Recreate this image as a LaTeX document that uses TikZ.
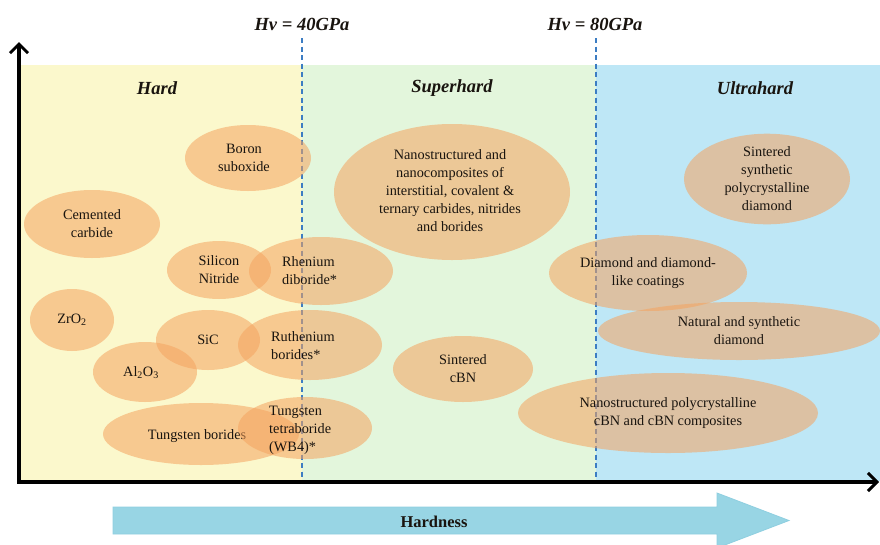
\documentclass[tikz,border=0pt]{standalone}
\usepackage{fontspec}
\setmainfont{Liberation Serif}
\usetikzlibrary{shapes.geometric,arrows.meta}
\definecolor{hardbg}{RGB}{251,248,204}
\definecolor{superbg}{RGB}{227,246,220}
\definecolor{ultrabg}{RGB}{190,231,246}
\definecolor{ellfill}{RGB}{245,163,95}
\definecolor{dashblue}{RGB}{60,125,195}
\definecolor{arrfill}{RGB}{152,213,228}
\definecolor{arrdraw}{RGB}{115,190,212}
\definecolor{txt}{RGB}{25,20,15}
\begin{document}
\begin{tikzpicture}[x=1pt,y=-1pt,
  blob/.style={ellipse, fill=ellfill, fill opacity=0.55, text opacity=1, inner sep=0pt,
    font=\fontsize{14.3}{18}\selectfont, align=center, text=txt},
  lbl/.style={font=\fontsize{14.3}{18}\selectfont, align=left, text=txt, inner sep=0pt},
  head/.style={font=\fontsize{18.5}{20}\selectfont\bfseries\itshape, text=txt, inner sep=0pt},
  axisline/.style={line width=3.6pt, black, -{Straight Barb[length=9pt,width=18pt,line width=3pt]}},
  divider/.style={dashblue, line width=1.2pt, dash pattern=on 5pt off 3.5pt}
]
\useasboundingbox (0,0) rectangle (880,544);
\fill[white] (0,0) rectangle (880,544);
% regions
\fill[hardbg] (19,65) rectangle (302,481);
\fill[superbg] (302,65) rectangle (596,481);
\fill[ultrabg] (596,65) rectangle (880,481);
% dividers
\coordinate (d1t) at (302,38);
\coordinate (d1b) at (302,481);
\coordinate (d2t) at (596,38);
\coordinate (d2b) at (596,481);
\draw[divider] (d1t) -- (d1b);
\draw[divider] (d2t) -- (d2b);
% threshold labels
\node[head] (hv40) at (302,24) {Hv = 40GPa};
\node[head] (hv80) at (595,24) {Hv = 80GPa};
% region titles
\node[head] (hard) at (157,88) {Hard};
\node[head] (superhard) at (452,88) {Superhard};
\node[head] (ultrahard) at (755,88) {Ultrahard};
% Hard ellipses
\node[blob, minimum width=126, minimum height=66] (boron) at (248,158) {};
\node[lbl, align=center] (boronT) at (244,158) {Boron\\suboxide};
\node[blob, minimum width=136, minimum height=68] (cemented) at (92,224) {Cemented\\carbide};
\node[blob, minimum width=104, minimum height=58] (sinit) at (219,270) {Silicon\\Nitride};
\node[blob, minimum width=144, minimum height=68] (rhen) at (321,271) {};
\node[lbl, anchor=west] (rhenT) at (282,271) {Rhenium\\diboride*};
\node[blob, minimum width=84, minimum height=62] (zro) at (72,320) {ZrO\textsubscript{2}};
\node[blob, minimum width=104, minimum height=60] (sic) at (208,340) {SiC};
\node[blob, minimum width=104, minimum height=60] (alo) at (145,372) {};
\node[lbl, anchor=center] (aloT) at (141,373) {Al\textsubscript{2}O\textsubscript{3}};
\node[blob, minimum width=144, minimum height=70] (ruth) at (310,345) {};
\node[lbl, anchor=west] (ruthT) at (271,346) {Ruthenium\\borides*};
\node[blob, minimum width=196, minimum height=62] (tungb) at (201,434) {};
\node[lbl, anchor=center] (tungbT) at (197,436) {Tungsten borides};
\node[blob, minimum width=134, minimum height=62] (tetra) at (305,428) {};
\node[lbl, anchor=west] (tetraT) at (269,430) {Tungsten\\tetraboride\\(WB4)*};
% Superhard ellipses
\node[blob, minimum width=236, minimum height=136] (nano) at (452,192) {};
\node[lbl, align=center] (nanoT) at (450,191) {Nanostructured and\\nanocomposites of\\interstitial, covalent \&\\ternary carbides, nitrides\\and borides};
\node[blob, minimum width=140, minimum height=66] (scbn) at (463,369) {Sintered\\cBN};
% Ultrahard ellipses
\node[blob, minimum width=166, minimum height=84] (spd) at (767,179) {Sintered\\synthetic\\polycrystalline\\diamond};
\node[blob, minimum width=198, minimum height=76] (dlc) at (648,273) {Diamond and diamond-\\like coatings};
\node[blob, minimum width=282, minimum height=58] (nat) at (739,331) {Natural and synthetic\\diamond};
\node[blob, minimum width=300, minimum height=80] (npc) at (668,413) {Nanostructured  polycrystalline\\cBN and cBN composites};
% axes
\coordinate (origin) at (19,482);
\coordinate (ytip) at (19,42);
\coordinate (xtip) at (879,482);
\draw[axisline] (17.2,482) -- (xtip);
\draw[axisline] (origin) -- (ytip);
% hardness arrow
\draw[arrfill!75!arrdraw, fill=arrfill, line width=0.8pt]
  (113,507) -- (717,507) -- (717,493) -- (789,520.5) -- (717,548) -- (717,534) -- (113,534) -- cycle;
\node[font=\fontsize{16.5}{18}\selectfont\bfseries, text=txt, inner sep=0pt] (hardness) at (434,521.5) {Hardness};
\end{tikzpicture}
\end{document}
